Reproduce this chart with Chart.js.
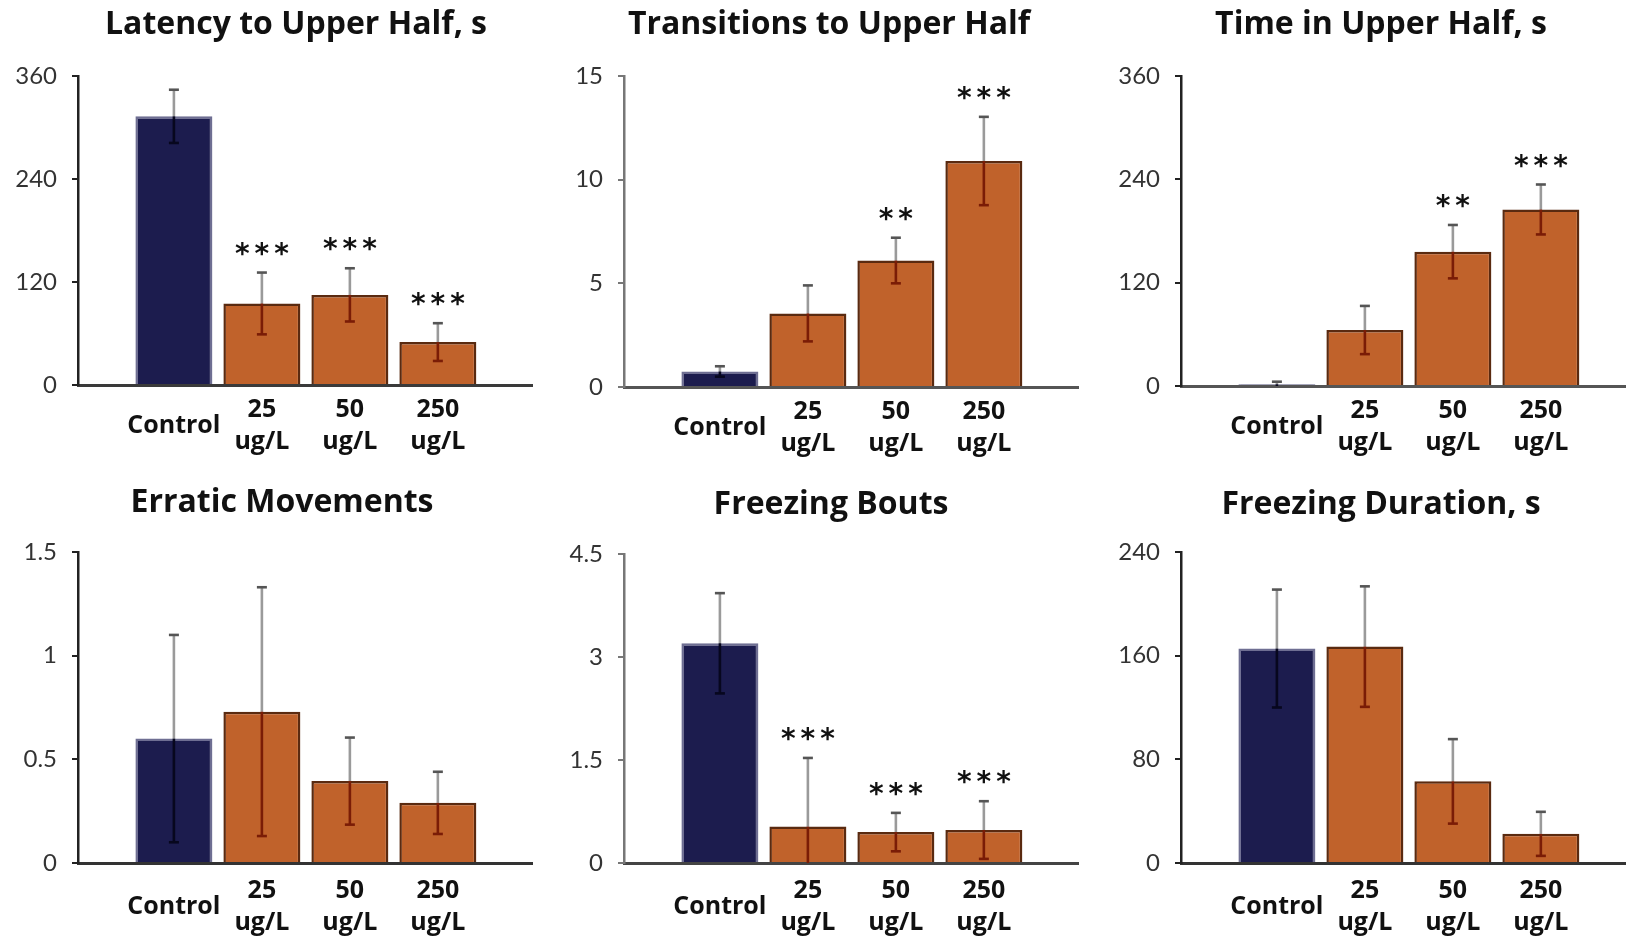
<!DOCTYPE html>
<html><head><meta charset="utf-8">
<script src="https://cdn.jsdelivr.net/npm/chart.js@4.4.1/dist/chart.umd.min.js"></script>
<style>
html,body{margin:0;padding:0;background:#fff;overflow:hidden;width:1626px;height:938px;position:relative;}
canvas{position:absolute;}
</style></head><body>
<canvas id="c1"></canvas><canvas id="c2"></canvas><canvas id="c3"></canvas>
<canvas id="c4"></canvas><canvas id="c5"></canvas><canvas id="c6"></canvas>
<script>
// ---------- data ----------
const categories = [['Control'], ['25', 'ug/L'], ['50', 'ug/L'], ['250', 'ug/L']];

const latencyTitle = 'Latency to Upper Half, s';
const latencyMean = [313, 95, 105, 50];
const latencySem = [31, 36, 31, 22];
const latencySig = ['', '***', '***', '***'];
const latencyTicks = [0, 120, 240, 360];

const transitionsTitle = 'Transitions to Upper Half';
const transitionsMean = [0.75, 3.55, 6.1, 10.9];
const transitionsSem = [0.25, 1.35, 1.1, 2.13];
const transitionsSig = ['', '', '**', '***'];
const transitionsTicks = [0, 5, 10, 15];

const timeTitle = 'Time in Upper Half, s';
const timeMean = [2, 65, 156, 205];
const timeSem = [3, 28, 31, 29];
const timeSig = ['', '', '**', '***'];
const timeTicks = [0, 120, 240, 360];

const erraticTitle = 'Erratic Movements';
const erraticMean = [0.6, 0.73, 0.395, 0.29];
const erraticSem = [0.5, 0.6, 0.21, 0.15];
const erraticSig = ['', '', '', ''];
const erraticTicks = [0, 0.5, 1, 1.5];

const boutsTitle = 'Freezing Bouts';
const boutsMean = [3.2, 0.53, 0.45, 0.48];
const boutsSem = [0.73, 1.0, 0.28, 0.42];
const boutsSig = ['', '***', '***', '***'];
const boutsTicks = [0, 1.5, 3, 4.5];

const durationTitle = 'Freezing Duration, s';
const durationMean = [165.5, 167, 63, 22.5];
const durationSem = [45.5, 46.5, 32.6, 17];
const durationSig = ['', '', '', ''];
const durationTicks = [0, 80, 160, 240];

// ---------- styling / layout ----------
const NAVY = '#1c1c4e', ORANGE = '#c0622b';
const FONT = '"Open Sans", Lato, sans-serif';
const TICK_FONT = 'Lato, "Open Sans", sans-serif';
const TITLE_SIZE = 32, TITLE_LH = 1.2;

function errPlugin(sem, sig) {
  return {
    id: 'errbars',
    afterDatasetsDraw(chart) {
      const ctx = chart.ctx, xs = chart.scales.x, ys = chart.scales.y;
      const pts = chart.data.datasets[0].data;
      ctx.save();
      pts.forEach((p, i) => {
        const m = p.y, e = sem[i];
        const x = xs.getPixelForValue(p.x);
        const yT = ys.getPixelForValue(m + e);
        const yB = ys.getPixelForValue(m);
        const yL = ys.getPixelForValue(Math.max(m - e, 0));
        const inner = i === 0 ? '#07071e' : '#7a1c06';
        ctx.lineWidth = 2.6;
        ctx.lineCap = 'butt';
        ctx.strokeStyle = '#9a9a9a';
        ctx.beginPath(); ctx.moveTo(x, yT); ctx.lineTo(x, yB); ctx.stroke();
        ctx.strokeStyle = inner;
        ctx.beginPath(); ctx.moveTo(x, yB); ctx.lineTo(x, yL); ctx.stroke();
        ctx.strokeStyle = '#555';
        ctx.beginPath(); ctx.moveTo(x - 5, yT); ctx.lineTo(x + 5, yT); ctx.stroke();
        if (m - e > 0) {
          ctx.strokeStyle = inner;
          ctx.beginPath(); ctx.moveTo(x - 5, yL); ctx.lineTo(x + 5, yL); ctx.stroke();
        }
        if (sig[i]) {
          ctx.font = 'bold 28px "DejaVu Sans", sans-serif';
          ctx.fillStyle = '#111';
          ctx.textAlign = 'center';
          ctx.textBaseline = 'alphabetic';
          try { ctx.letterSpacing = '5px'; } catch (err) {}
          const mt = ctx.measureText(sig[i]);
          const cy = yT - 24;
          ctx.fillText(sig[i], x + 2.5, cy + (mt.actualBoundingBoxAscent - mt.actualBoundingBoxDescent) / 2);
        }
      });
      ctx.restore();
    }
  };
}

const X_MIN = -1.09, X_MAX = 4.07;

function makeChart(id, cfg) {
  const cv = document.getElementById(id);
  const chartRight = cfg.axisX + cfg.span;
  const rW = 2 * cfg.titleX - cfg.left - chartRight;
  const w = chartRight + rW - cfg.left;
  cv.width = w; cv.height = cfg.h;
  cv.style.left = cfg.left + 'px'; cv.style.top = cfg.top + 'px';
  cv.style.width = w + 'px'; cv.style.height = cfg.h + 'px';
  const ticks = cfg.yTicks;
  const tLine = TITLE_SIZE * TITLE_LH;
  const tTop = cfg.titleY - tLine / 2;
  const tBot = cfg.areaTop - tTop - tLine;
  return new Chart(cv, {
    type: 'bar',
    data: {
      datasets: [{
        data: cfg.mean.map((v, i) => ({ x: i, y: v })),
        backgroundColor: cfg.mean.map((v, i) => i === 0 ? NAVY : ORANGE),
        borderColor: cfg.mean.map((v, i) => i === 0 ? '#6e6e92' : '#5a2a10'),
        borderWidth: 2.5,
        barPercentage: 1,
        categoryPercentage: 0.875
      }]
    },
    options: {
      responsive: false,
      devicePixelRatio: 1,
      animation: false,
      layout: { padding: 0 },
      plugins: {
        legend: { display: false },
        tooltip: { enabled: false },
        title: {
          display: true, text: cfg.title, color: '#111',
          font: { family: FONT, size: TITLE_SIZE, weight: 'bold', lineHeight: TITLE_LH },
          padding: { top: tTop, bottom: tBot }
        }
      },
      scales: {
        x: {
          type: 'linear', min: X_MIN, max: X_MAX, offset: false,
          afterBuildTicks: s => { s.ticks = categories.map((c, i) => ({ value: i })); },
          afterFit: s => { s.height = cfg.h - cfg.zeroY; },
          grid: { display: false, drawTicks: false, offset: false },
          border: { display: true, color: cfg.xColor, width: 3 },
          ticks: {
            autoSkip: false, maxRotation: 0, minRotation: 0, crossAlign: 'center',
            padding: cfg.lPad, color: '#111',
            font: { family: FONT, size: 25, weight: 'bold', lineHeight: 1.28 },
            callback: v => categories[v]
          }
        },
        y: {
          min: ticks[0], max: ticks[ticks.length - 1],
          afterBuildTicks: s => { s.ticks = ticks.map(v => ({ value: v })); },
          afterFit: s => { s.width = cfg.axisX - cfg.left; },
          grid: { drawOnChartArea: false, drawTicks: true, tickLength: 6, color: cfg.yColor, lineWidth: 2 },
          border: { display: true, color: cfg.yColor, width: 2.5 },
          ticks: {
            padding: 15, color: '#333',
            font: { family: TICK_FONT, size: 24 },
            callback: v => String(v)
          }
        },
        yPad: {
          type: 'linear', position: 'right', display: true,
          afterFit: s => { s.width = rW; },
          grid: { display: false, drawTicks: false },
          border: { display: false },
          ticks: { display: false }
        }
      }
    },
    plugins: [errPlugin(cfg.sem, cfg.sig)]
  });
}

const SPAN = 454; // plot width in px (5.16 category steps of 88 px)
makeChart('c1', { left: 0, top: 0, h: 470, axisX: 78, span: SPAN, titleX: 296, titleY: 25, areaTop: 76, zeroY: 385, lPad: 25,
  xColor: '#3a3a3a', yColor: '#222', title: latencyTitle,
  mean: latencyMean, sem: latencySem, sig: latencySig, yTicks: latencyTicks });
makeChart('c2', { left: 540, top: 0, h: 470, axisX: 624, span: SPAN, titleX: 829, titleY: 25, areaTop: 76, zeroY: 387, lPad: 25,
  xColor: '#555', yColor: '#777', title: transitionsTitle,
  mean: transitionsMean, sem: transitionsSem, sig: transitionsSig, yTicks: transitionsTicks });
makeChart('c3', { left: 1080, top: 0, h: 470, axisX: 1181, span: SPAN, titleX: 1381, titleY: 25, areaTop: 76, zeroY: 386, lPad: 25,
  xColor: '#555', yColor: '#222', title: timeTitle,
  mean: timeMean, sem: timeSem, sig: timeSig, yTicks: timeTicks });
makeChart('c4', { left: 0, top: 470, h: 468, axisX: 78, span: SPAN, titleX: 282, titleY: 33, areaTop: 82, zeroY: 393, lPad: 28,
  xColor: '#333', yColor: '#222', title: erraticTitle,
  mean: erraticMean, sem: erraticSem, sig: erraticSig, yTicks: erraticTicks });
makeChart('c5', { left: 540, top: 470, h: 468, axisX: 624, span: SPAN, titleX: 831, titleY: 35, areaTop: 84, zeroY: 393, lPad: 28,
  xColor: '#444', yColor: '#777', title: boutsTitle,
  mean: boutsMean, sem: boutsSem, sig: boutsSig, yTicks: boutsTicks });
makeChart('c6', { left: 1080, top: 470, h: 468, axisX: 1181, span: SPAN, titleX: 1381, titleY: 35, areaTop: 82, zeroY: 393, lPad: 28,
  xColor: '#333', yColor: '#222', title: durationTitle,
  mean: durationMean, sem: durationSem, sig: durationSig, yTicks: durationTicks });
</script>
</body></html>
